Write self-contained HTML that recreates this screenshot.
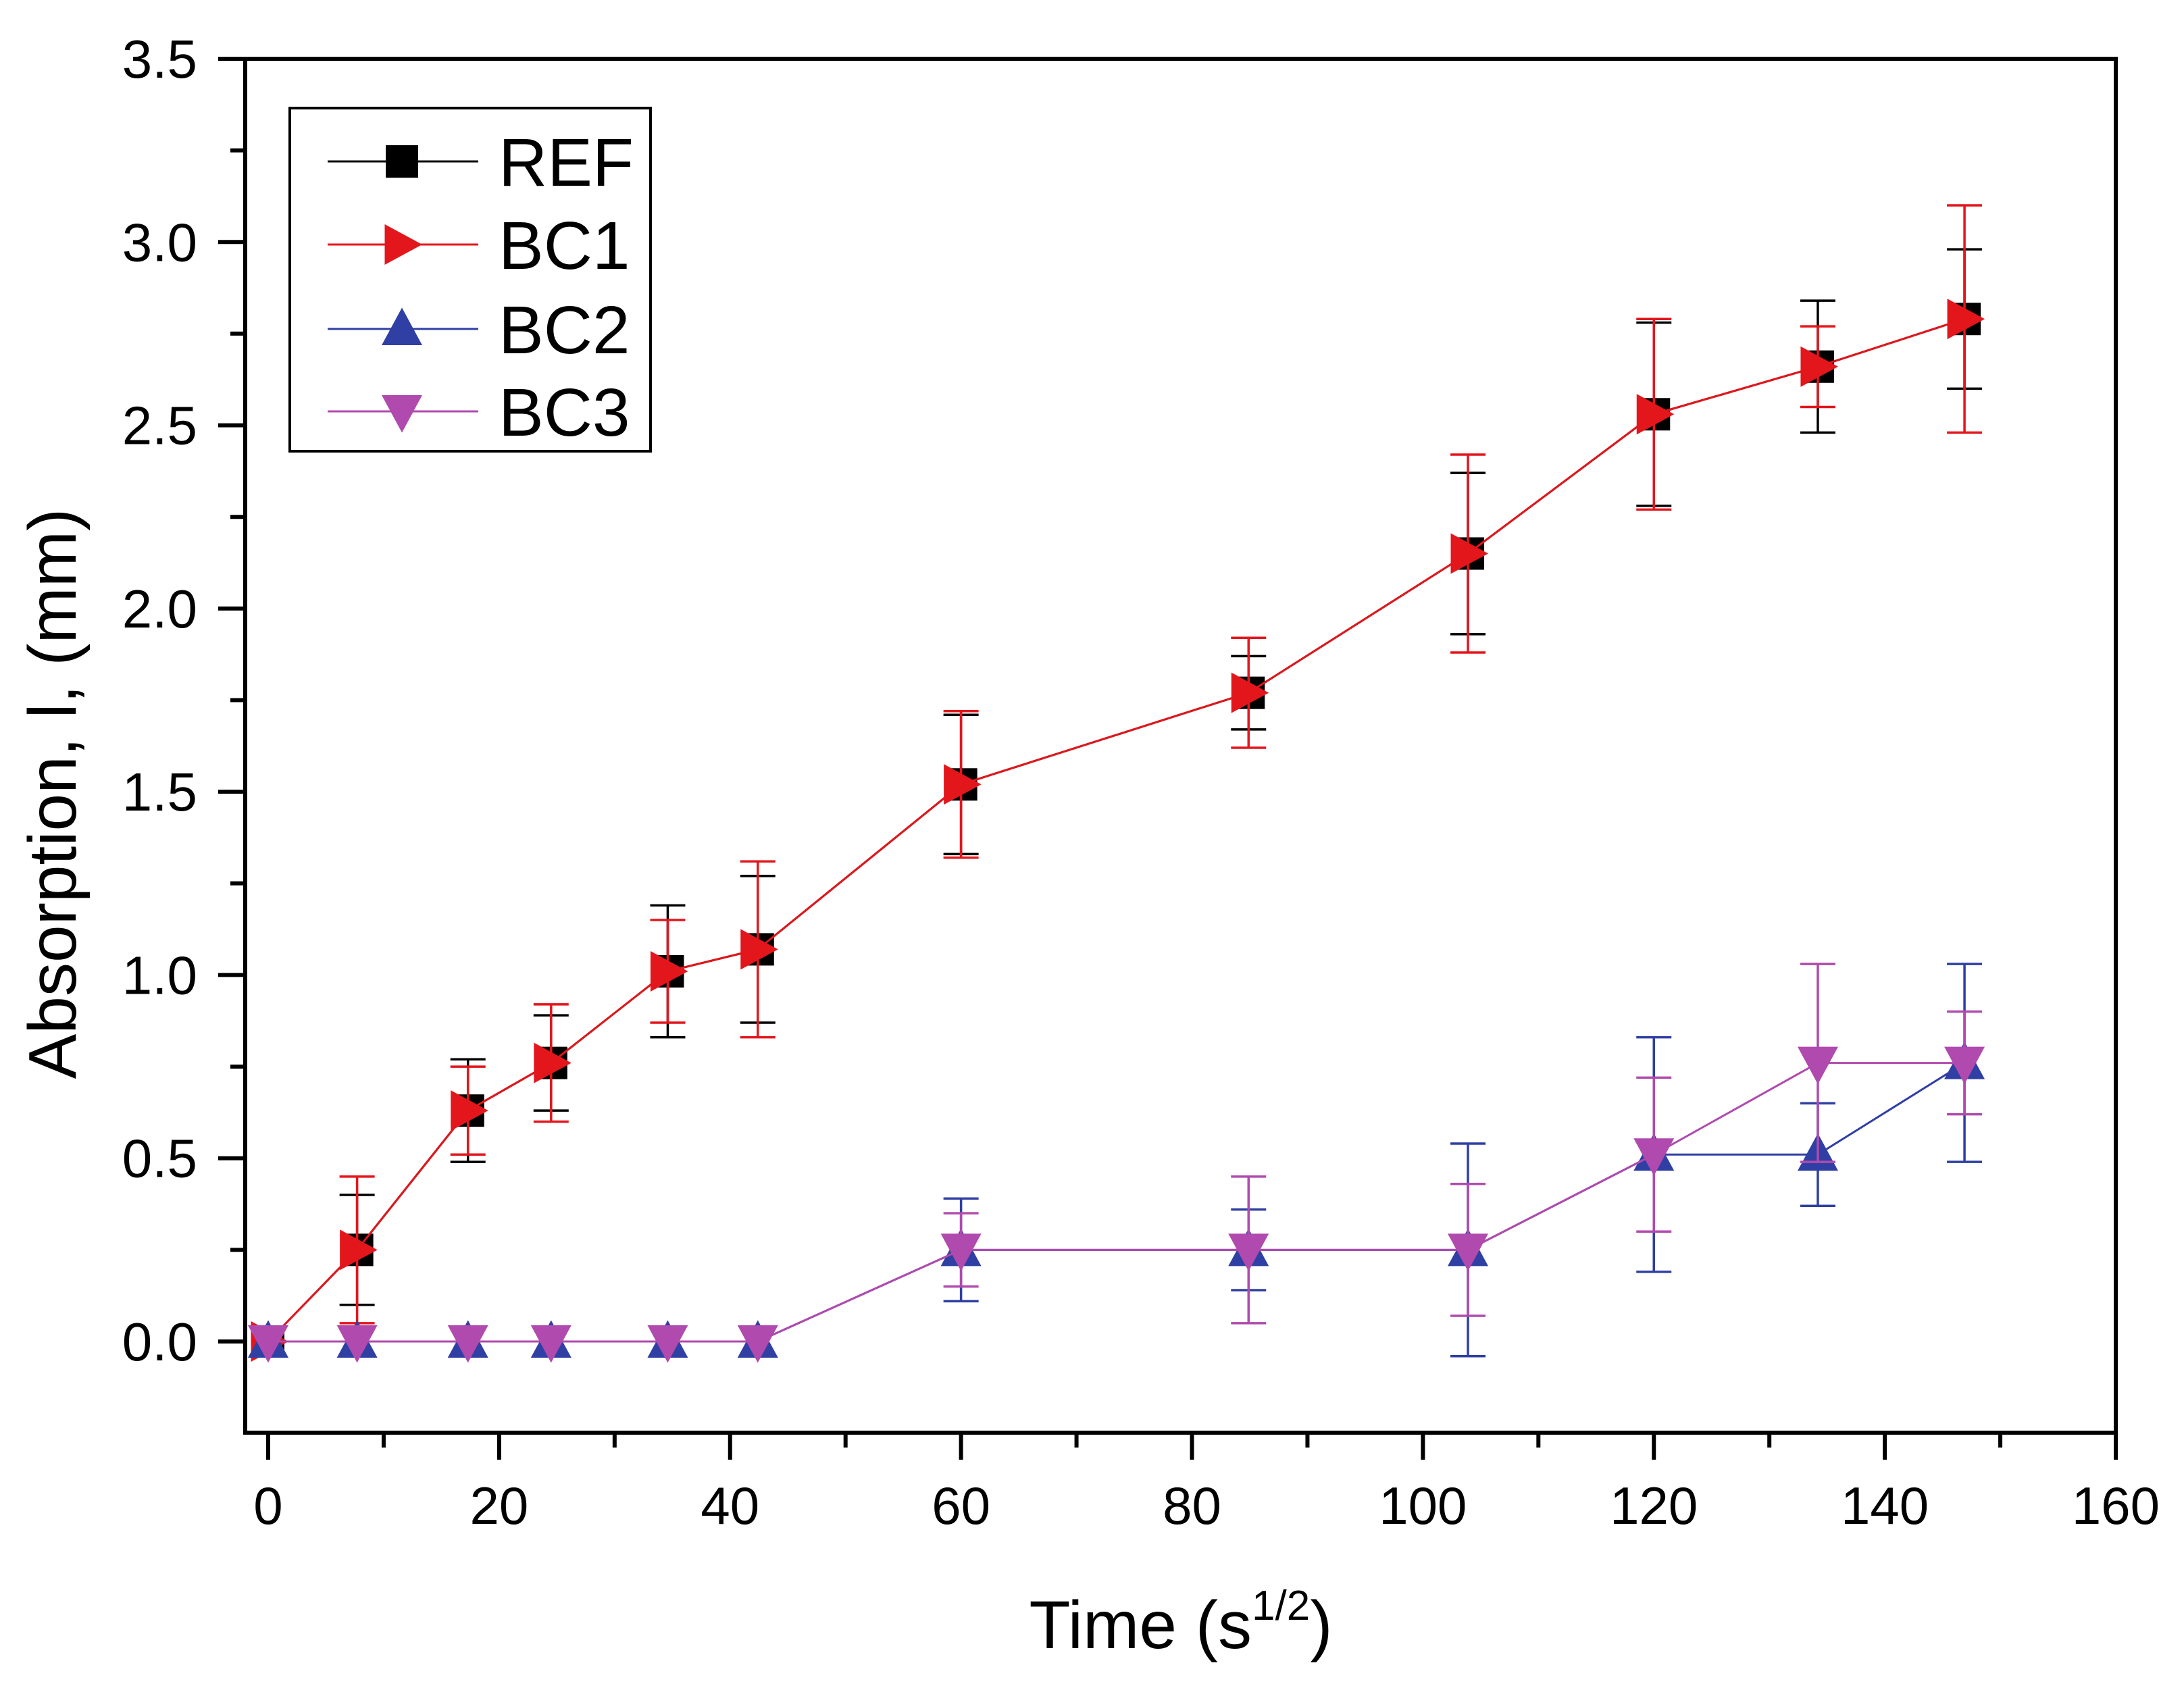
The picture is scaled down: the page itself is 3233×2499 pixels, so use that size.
<!DOCTYPE html>
<html><head><meta charset="utf-8"><style>
html,body{margin:0;padding:0;background:#fff;}
svg{display:block;font-family:"Liberation Sans",Arial,sans-serif;}
</style></head><body>
<svg id="chart" width="3233" height="2499" viewBox="0 0 3233 2499" xmlns="http://www.w3.org/2000/svg">
<rect width="3233" height="2499" fill="#fff"/>
<g id="axes"></g>
<g id="series"></g>
<g id="legend"></g>
<text x="0" y="0" transform="translate(112,1175) rotate(-90)" font-size="100" text-anchor="middle">Absorption, l, (mm)</text>
<text x="1748" y="2440" font-size="100" text-anchor="middle">Time (s<tspan font-size="62" dy="-42">1/2</tspan><tspan dy="42">)</tspan></text>
</svg>
<script>
const xVals = [0, 7.7, 17.3, 24.5, 34.6, 42.4, 60, 84.9, 103.9, 120, 134.2, 146.9];
const refY = [0, 0.25, 0.63, 0.76, 1.01, 1.07, 1.52, 1.77, 2.15, 2.53, 2.66, 2.79];
const refErr = [0, 0.15, 0.14, 0.13, 0.18, 0.2, 0.19, 0.1, 0.22, 0.25, 0.18, 0.19];
const bc1Y = [0, 0.25, 0.63, 0.76, 1.01, 1.07, 1.52, 1.77, 2.15, 2.53, 2.66, 2.79];
const bc1Err = [0, 0.2, 0.12, 0.16, 0.14, 0.24, 0.2, 0.15, 0.27, 0.26, 0.11, 0.31];
const bc2Y = [0, 0, 0, 0, 0, 0, 0.25, 0.25, 0.25, 0.51, 0.51, 0.76];
const bc2Err = [0, 0, 0, 0, 0, 0, 0.14, 0.11, 0.29, 0.32, 0.14, 0.27];
const bc3Y = [0, 0, 0, 0, 0, 0, 0.25, 0.25, 0.25, 0.51, 0.76, 0.76];
const bc3Err = [0, 0, 0, 0, 0, 0, 0.1, 0.2, 0.18, 0.21, 0.27, 0.14];
const xTicks = [0, 20, 40, 60, 80, 100, 120, 140, 160];
const yTicks = ["0.0", "0.5", "1.0", "1.5", "2.0", "2.5", "3.0", "3.5"];

const NS = "http://www.w3.org/2000/svg";
const X0 = 397, X1 = 3132, Y0 = 1986, Y1 = 87;
const L = 363, B = 2121, T = 87, R = 3132;
function sx(v){ return X0 + (X1 - X0) * v / 160; }
function sy(v){ return Y0 - (Y0 - Y1) * v / 3.5; }
function mk(tag, attrs, parent){
  const e = document.createElementNS(NS, tag);
  for (const k in attrs) e.setAttribute(k, attrs[k]);
  parent.appendChild(e);
  return e;
}
const axes = document.getElementById('axes');
let e;
e = mk('rect', {x:L, y:T, width:R-L, height:B-T, fill:'none', stroke:'#000', 'stroke-width':6}, axes);


xTicks.forEach((t, i) => {
  const x = sx(t);
  e = mk('line', {x1:x, y1:B, x2:x, y2:B+40, stroke:'#000', 'stroke-width':6}, axes);
  
  
  if (i < xTicks.length - 1) {
    const xm = sx(t + 10);
    e = mk('line', {x1:xm, y1:B, x2:xm, y2:B+22, stroke:'#000', 'stroke-width':6}, axes);
    
    
  }
  e = mk('text', {x:x, y:2256, 'font-size':78, 'text-anchor':'middle'}, axes);
  e.textContent = t;
  
  
});
yTicks.forEach((t, i) => {
  const v = parseFloat(t), y = sy(v);
  e = mk('line', {x1:L-40, y1:y, x2:L, y2:y, stroke:'#000', 'stroke-width':6}, axes);
  
  
  if (i < yTicks.length - 1) {
    const ym = sy(v + 0.25);
    e = mk('line', {x1:L-22, y1:ym, x2:L, y2:ym, stroke:'#000', 'stroke-width':6}, axes);
    
    
  }
  e = mk('text', {x:292, y:y+28, 'font-size':80, 'text-anchor':'end'}, axes);
  e.textContent = t;
  
  
});

function marker(shape, cx, cy, color, parent){
  const s = 30;
  let pts;
  if (shape === 'square') {
    return mk('rect', {x:cx-s*0.8, y:cy-s*0.8, width:s*1.6, height:s*1.6, fill:color}, parent);
  } else if (shape === 'right') {
    pts = [[cx-s*0.85, cy-s], [cx+s*1.0, cy], [cx-s*0.85, cy+s]];
  } else if (shape === 'up') {
    pts = [[cx, cy-s*1.05], [cx+s, cy+s*0.8], [cx-s, cy+s*0.8]];
  } else {
    pts = [[cx-s, cy-s*0.8], [cx+s, cy-s*0.8], [cx, cy+s*1.05]];
  }
  return mk('polygon', {points: pts.map(p => p.join(',')).join(' '), fill:color}, parent);
}

const seriesDefs = [
  {name:'ref', y:refY, err:refErr, color:'#000000', shape:'square'},
  {name:'bc1', y:bc1Y, err:bc1Err, color:'#e3161c', shape:'right'},
  {name:'bc2', y:bc2Y, err:bc2Err, color:'#2f3fa3', shape:'up'},
  {name:'bc3', y:bc3Y, err:bc3Err, color:'#b04aae', shape:'down'}
];
const sg = document.getElementById('series');
seriesDefs.forEach(sd => {
  const g = mk('g', {}, sg);
  
  
  sd.y.forEach((v, i) => {
    if (sd.err[i] <= 0) return;
    const x = sx(xVals[i]), yt = sy(v + sd.err[i]), yb = sy(v - sd.err[i]);
    const eb = mk('path', {d:`M${x},${yt}V${yb}M${x-26},${yt}H${x+26}M${x-26},${yb}H${x+26}`, stroke:sd.color, 'stroke-width':3.5, fill:'none'}, g);
    
    
  });
  const ln = mk('polyline', {points: sd.y.map((v, i) => sx(xVals[i]) + ',' + sy(v)).join(' '), fill:'none', stroke:sd.color, 'stroke-width':3}, g);
  
  
  sd.y.forEach((v, i) => {
    const m = marker(sd.shape, sx(xVals[i]), sy(v), sd.color, g);
    
    
  });
});

const lg = document.getElementById('legend');


e = mk('rect', {x:429, y:160, width:534, height:508, fill:'#fff', stroke:'#000', 'stroke-width':4}, lg);


const legendLabels = ['REF', 'BC1', 'BC2', 'BC3'];
const legendY = [239, 362, 487, 609];
seriesDefs.forEach((sd, i) => {
  const g = mk('g', {}, lg);
  
  
  const y = legendY[i];
  mk('line', {x1:485, y1:y, x2:708, y2:y, stroke:sd.color, 'stroke-width':3}, g);
  marker(sd.shape, 595, y, sd.color, g);
  const t = mk('text', {x:738, y:y+36, 'font-size':100}, g);
  t.textContent = legendLabels[i];
});
</script>
</body></html>
